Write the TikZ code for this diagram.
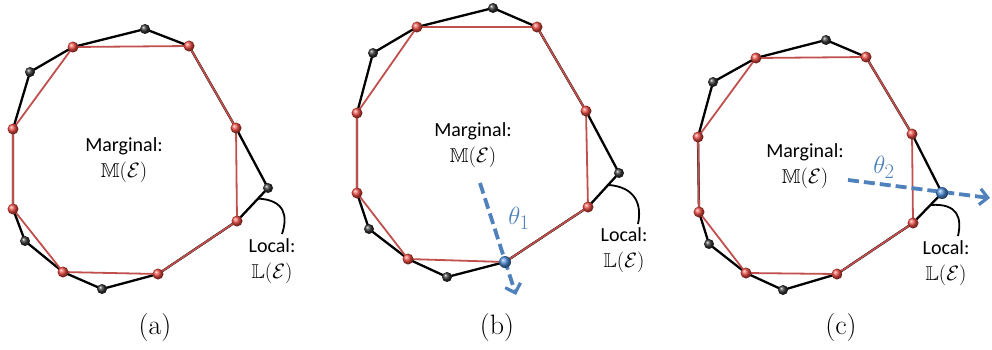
\documentclass[tikz,border=0pt]{standalone}
\usepackage{fontspec}
\usepackage{amssymb}
\newfontfamily\calfont{Carlito}
\usetikzlibrary{arrows.meta,calc}
\pgfdeclarelayer{bg}
\pgfsetlayers{bg,main}
\definecolor{myred}{HTML}{C0504D}
\definecolor{ballred}{HTML}{E8483F}
\definecolor{myblue}{HTML}{4F81BD}
\definecolor{ballblue}{HTML}{4A8AD8}
\tikzset{
  rball/.style={circle, inner sep=0pt, minimum size=11pt, shading=ball, ball color=ballred},
  kball/.style={circle, inner sep=0pt, minimum size=10pt, shading=ball, ball color=black!80},
  bball/.style={circle, inner sep=0pt, minimum size=12pt, shading=ball, ball color=ballblue},
  blkline/.style={line width=2.3pt, black, line join=round},
  redline/.style={line width=1.8pt, myred, line join=round},
  lbl/.style={align=center, font=\calfont\fontsize{20}{25.5}\selectfont, inner sep=0pt},
  captext/.style={font=\fontsize{28}{32}\selectfont, inner sep=0pt},
  th/.style={font=\fontsize{30}{34}\selectfont, text=myblue, inner sep=0pt},
  darrow/.style={myblue, line width=3.8pt, dash pattern=on 11pt off 5pt, -{Straight Barb[length=8pt,width=16pt,line width=3.2pt]}},
  brace/.style={line width=1.8pt, black}
}
\begin{document}
\begin{tikzpicture}[x=1pt,y=-1pt]
\useasboundingbox (0,0) rectangle (992,349);
% ---------------- panel (a)
\node[kball] (aT)   at (145,29)  {};
\node[rball] (aTR)  at (189,46)  {};
\node[rball] (aR)   at (236,128) {};
\node[kball] (aRb)  at (268,188) {};
\node[rball] (aLR)  at (237,221) {};
\node[rball] (aBR)  at (158,274) {};
\node[kball] (aB)   at (102,289) {};
\node[rball] (aBL)  at (63,272)  {};
\node[kball] (aLLb) at (25,241)  {};
\node[rball] (aLl)  at (13,209)  {};
\node[rball] (aLu)  at (13,129)  {};
\node[kball] (aULb) at (30,72)   {};
\node[rball] (aTL)  at (73,47)   {};
\begin{pgfonlayer}{bg}
\draw[blkline] (aT.center)--(aTR.center)--(aR.center)--(aRb.center)--(aLR.center)--(aBR.center)--(aB.center)--(aBL.center)--(aLLb.center)--(aLl.center)--(aLu.center)--(aULb.center)--(aTL.center)--cycle;
\draw[redline] (aTL.center)--(aTR.center)--(aR.center)--(aLR.center)--(aBR.center)--(aBL.center)--(aLl.center)--(aLu.center)--cycle;
\end{pgfonlayer}
\node[lbl] (aM) at (124,160) {Marginal:\\$\mathbb{M}(\mathcal{E})$};
\node[lbl] (aL) at (272,261) {Local:\\$\mathbb{L}(\mathcal{E})$};
\coordinate (aK) at ($(aRb)!0.32!(aLR)$);
\coordinate (aKe) at (282,234);
\draw[brace] (aK) .. controls (285,200) and (288,216) .. (aKe);
\node[captext] (acap) at (155,328) {(a)};
% ---------------- panel (b)
\node[kball] (bT)   at (493,8)   {};
\node[rball] (bTR)  at (537,27)  {};
\node[rball] (bR)   at (586,111) {};
\node[kball] (bRb)  at (619,173) {};
\node[rball] (bLR)  at (588,207) {};
\node[bball] (bBR)  at (505,262) {};
\node[kball] (bB)   at (447,277) {};
\node[rball] (bBL)  at (408,259) {};
\node[kball] (bLLb) at (369,229) {};
\node[rball] (bLl)  at (357,193) {};
\node[rball] (bLu)  at (357,113) {};
\node[kball] (bULb) at (373,53)  {};
\node[rball] (bTL)  at (417,27)  {};
\begin{pgfonlayer}{bg}
\draw[blkline] (bT.center)--(bTR.center)--(bR.center)--(bRb.center)--(bLR.center)--(bBR.center)--(bB.center)--(bBL.center)--(bLLb.center)--(bLl.center)--(bLu.center)--(bULb.center)--(bTL.center)--cycle;
\draw[redline] (bTL.center)--(bTR.center)--(bR.center)--(bLR.center)--(bBR.center)--(bBL.center)--(bLl.center)--(bLu.center)--cycle;
\end{pgfonlayer}
\node[lbl] (bM) at (473,145) {Marginal:\\$\mathbb{M}(\mathcal{E})$};
\node[lbl] (bL) at (624,250) {Local:\\$\mathbb{L}(\mathcal{E})$};
\coordinate (bK) at ($(bRb)!0.35!(bLR)$);
\coordinate (bKe) at (638,224);
\draw[brace] (bK) .. controls (636,187) and (642,205) .. (bKe);
\coordinate (bA0) at (480,183);
\coordinate (bA1) at (516,295);
\begin{pgfonlayer}{bg}
\draw[darrow] (bA0) -- (bA1);
\end{pgfonlayer}
\node[th] (bth) at (519,218) {$\theta_1$};
\node[captext] (bcap) at (497,328) {(b)};
% ---------------- panel (c)
\node[kball] (cT)   at (826,40)  {};
\node[rball] (cTR)  at (866,57)  {};
\node[rball] (cR)   at (912,134) {};
\node[bball] (cRb)  at (942,193) {};
\node[rball] (cLR)  at (913,223) {};
\node[rball] (cBR)  at (837,274) {};
\node[kball] (cB)   at (783,290) {};
\node[rball] (cBL)  at (746,273) {};
\node[kball] (cLLb) at (709,244) {};
\node[rball] (cLl)  at (699,212) {};
\node[rball] (cLu)  at (698,137) {};
\node[kball] (cULb) at (713,82)  {};
\node[rball] (cTL)  at (756,58)  {};
\begin{pgfonlayer}{bg}
\draw[blkline] (cT.center)--(cTR.center)--(cR.center)--(cRb.center)--(cLR.center)--(cBR.center)--(cB.center)--(cBL.center)--(cLLb.center)--(cLl.center)--(cLu.center)--(cULb.center)--(cTL.center)--cycle;
\draw[redline] (cTL.center)--(cTR.center)--(cR.center)--(cLR.center)--(cBR.center)--(cBL.center)--(cLl.center)--(cLu.center)--cycle;
\end{pgfonlayer}
\node[lbl] (cM) at (805,166) {Marginal:\\$\mathbb{M}(\mathcal{E})$};
\node[lbl] (cL) at (946,263) {Local:\\$\mathbb{L}(\mathcal{E})$};
\coordinate (cK) at ($(cRb)!0.4!(cLR)$);
\coordinate (cKe) at (958,236);
\draw[brace] (cK) .. controls (958,203) and (962,218) .. (cKe);
\coordinate (cA0) at (848,180);
\coordinate (cA1) at (990,198);
\begin{pgfonlayer}{bg}
\draw[darrow] (cA0) -- (cA1);
\end{pgfonlayer}
\node[th] (cth) at (884,167) {$\theta_2$};
\node[captext] (ccap) at (841,328) {(c)};
\end{tikzpicture}
\end{document}
